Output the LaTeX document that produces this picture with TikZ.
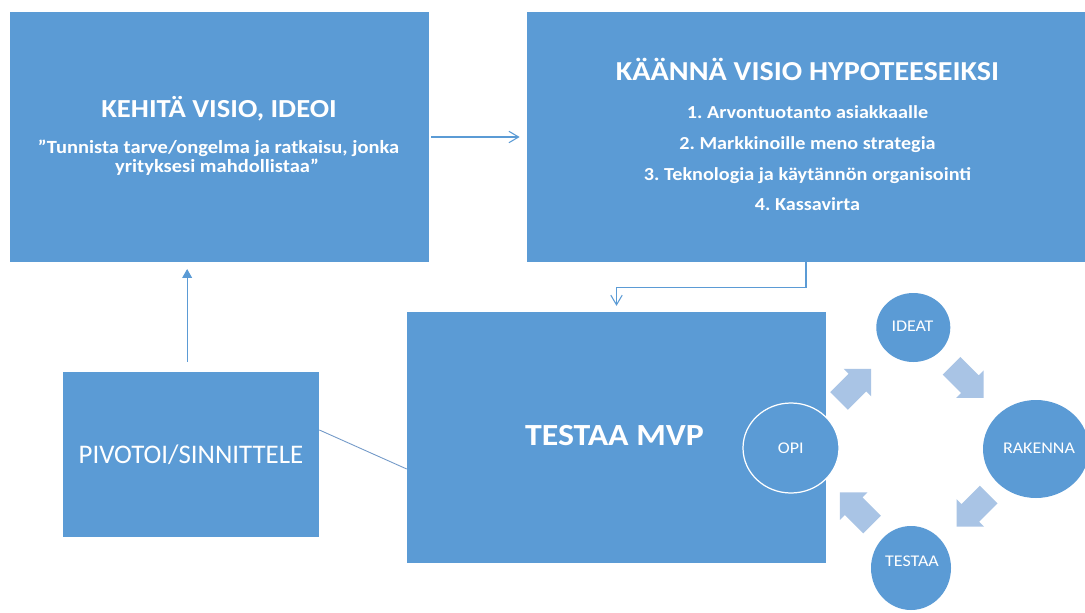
\documentclass[tikz,border=0pt]{standalone}
\usepackage{fontspec}
\setmainfont{Carlito}[FakeStretch=1.1]
\newfontfamily\plainfont{Carlito}
\usetikzlibrary{arrows.meta,calc,shapes.geometric}
\definecolor{boxblue}{HTML}{5B9BD5}
\definecolor{lightarr}{HTML}{A9C4E5}
\definecolor{linkblue}{HTML}{5B9BD5}
\definecolor{greylink}{HTML}{7299C8}
\def\pxu{0.02cm}
\frenchspacing
\tikzset{
  box/.style={rectangle, fill=boxblue, draw=none, inner sep=0pt},
  bub/.style={ellipse, fill=boxblue, draw=none, inner sep=0pt},
  txt/.style={text=white, inner sep=0pt, anchor=base},
  conn/.style={draw=linkblue, line width=0.6pt},
  openhead/.style={-{Straight Barb[length=5.5pt,width=6.5pt,line width=0.6pt]}},
  pics/fatarrow/.style={code={
    \fill[lightarr] (-23,-12.5) -- (3,-12.5) -- (3,-19.5) -- (22.5,0) -- (3,19.5) -- (3,12.5) -- (-23,12.5) -- cycle;}}
}
\begin{document}
\begin{tikzpicture}[x=0.02cm,y=-0.02cm]
\clip (0,0) rectangle (1085,612);
\fill[white] (0,0) rectangle (1085,612);

% boxes
\node[box, minimum width=419*\pxu, minimum height=250*\pxu] (A) at (219.5,137) {};
\node[box, minimum width=558*\pxu, minimum height=250*\pxu] (B) at (806,137) {};
\node[box, minimum width=419*\pxu, minimum height=251*\pxu] (M) at (616.5,437.5) {};
\node[box, minimum width=256*\pxu, minimum height=165*\pxu] (P) at (191,454.5) {};

% box texts
\node[txt, font=\bfseries\fontsize{14.8}{18}\selectfont] (At) at (219,117) {KEHITÄ VISIO, IDEOI};
\node[txt, font=\bfseries\fontsize{10.6}{12}\selectfont] (As1) at (218.5,153) {”Tunnista tarve/ongelma ja ratkaisu, jonka};
\node[txt, font=\bfseries\fontsize{10.6}{12}\selectfont] (As2) at (217,172.7) {yrityksesi mahdollistaa”};

\node[txt, font=\bfseries\fontsize{15.6}{18}\selectfont] (Bt) at (807.5,80.7) {KÄÄNNÄ VISIO HYPOTEESEIKSI};
\node[txt, font=\bfseries\fontsize{10.45}{12}\selectfont] (B1) at (807.5,118.3) {1. Arvontuotanto asiakkaalle};
\node[txt, font=\bfseries\fontsize{10.45}{12}\selectfont] (B2) at (807.5,149) {2. Markkinoille meno strategia};
\node[txt, font=\bfseries\fontsize{10.45}{12}\selectfont] (B3) at (807.5,180) {3. Teknologia ja käytännön organisointi};
\node[txt, font=\bfseries\fontsize{10.45}{12}\selectfont] (B4) at (807.5,210.7) {4. Kassavirta};

\node[txt, font=\bfseries\fontsize{17.5}{22}\selectfont] (Mt) at (614.5,445.7) {TESTAA MVP};
\node[txt, font=\plainfont\fontsize{15.3}{18}\selectfont] (Pt) at (191,463.3) {PIVOTOI/SINNITTELE};

% cycle bubbles
\node[bub, minimum width=96*\pxu, minimum height=90*\pxu, draw=white, line width=0.7pt] (O) at (791,448) {};
\node[bub, minimum width=74*\pxu, minimum height=69*\pxu] (I) at (913.3,327.5) {};
\node[bub, minimum width=106*\pxu, minimum height=98*\pxu] (R) at (1036,449) {};
\node[bub, minimum width=80*\pxu, minimum height=84*\pxu] (T) at (911,568) {};

\node[txt, font=\fontsize{9.3}{11}\selectfont] (Ot) at (790.8,453.3) {OPI};
\node[txt, font=\fontsize{9.3}{11}\selectfont] (It) at (912.5,331.7) {IDEAT};
\node[txt, font=\fontsize{9.3}{11}\selectfont] (Rt) at (1039,453.3) {RAKENNA};
\node[txt, font=\fontsize{9.3}{11}\selectfont] (Tt) at (912,566.7) {TESTAA};

% block arrows of the cycle
\pic[rotate=45] at (855.3,384.7) {fatarrow};
\pic[rotate=-45] at (967.8,382) {fatarrow};
\pic[rotate=-135] at (972.5,510.8) {fatarrow};
\pic[rotate=135] at (855.8,508.3) {fatarrow};

% connectors
\draw[conn, openhead, shorten <=1pt, shorten >=4pt] (A.east) -- (B.west);
\draw[conn, openhead, shorten >=3.3pt] (B.south) -- ++(0,24.7) -| (M.north);
\coordinate (p1) at ($(P.north west)!0.485!(P.north east)$);
\draw[conn, -{Triangle[length=5pt,width=5.5pt]}, shorten <=5.7pt, shorten >=3.8pt] (p1) -- (p1 |- A.south);
\draw[draw=greylink, line width=0.5pt] ($(P.north east)!0.352!(P.south east)$) -- ($(M.north west)!0.625!(M.south west)$);
\end{tikzpicture}
\end{document}
